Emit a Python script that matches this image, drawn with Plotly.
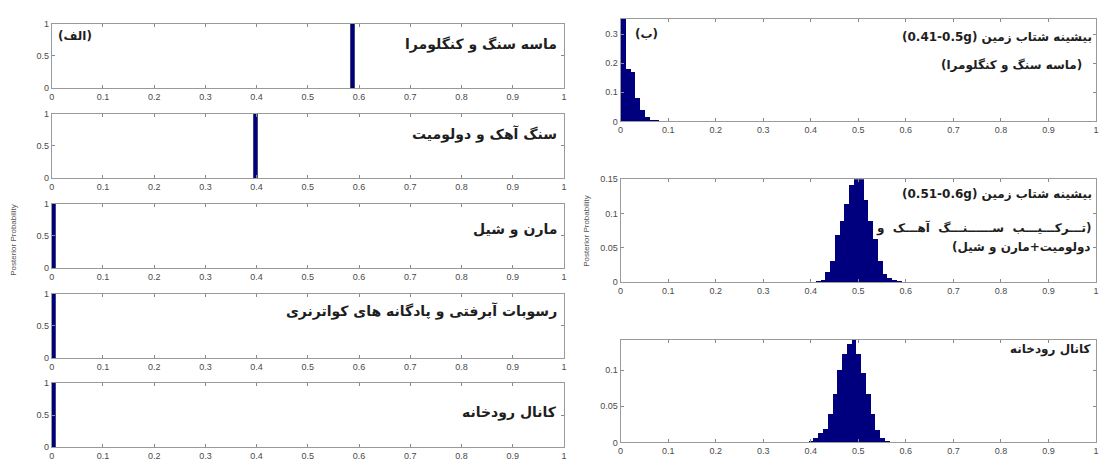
import plotly.graph_objects as go

W, H = 1099, 467

# ---------------- data ----------------
x_ticks = [0, 0.1, 0.2, 0.3, 0.4, 0.5, 0.6, 0.7, 0.8, 0.9, 1]
x_tick_labels = ["0", "0.1", "0.2", "0.3", "0.4", "0.5", "0.6", "0.7", "0.8", "0.9", "1"]

# left column (الف): posterior probability per lithology
left_titles = ["ماسه سنگ و کنگلومرا", "سنگ آهک و دولومیت", "مارن و شیل",
               "رسوبات آبرفتی و پادگانه های کواترنری", "کانال رودخانه"]
left_x = [0.588, 0.398, 0.004, 0.004, 0.004]
left_p = [1.0, 1.0, 1.0, 1.0, 1.0]
left_y_ticks = [0, 0.5, 1]
left_y_labels = ["0", "0.5", "1"]

# right column (ب): posterior histograms
r1_x = [0.005, 0.015, 0.025, 0.035, 0.045, 0.055, 0.065, 0.075, 0.085, 0.095, 0.105, 0.115]
r1_p = [0.55, 0.18, 0.17, 0.082, 0.039, 0.015, 0.006, 0.003, 0.002, 0.001, 0.001, 0.0005]
r1_y_ticks = [0, 0.1, 0.2, 0.3]
r1_y_labels = ["0", "0.1", "0.2", "0.3"]

r2_x = [0.415, 0.425, 0.435, 0.445, 0.455, 0.465, 0.475, 0.485, 0.495, 0.505,
        0.515, 0.525, 0.535, 0.545, 0.555, 0.565, 0.575, 0.585]
r2_p = [0.001, 0.003, 0.014, 0.031, 0.068, 0.088, 0.114, 0.141, 0.152, 0.155,
        0.12, 0.088, 0.062, 0.031, 0.012, 0.005, 0.002, 0.001]
r2_y_ticks = [0, 0.05, 0.1, 0.15]
r2_y_labels = ["0", "0.05", "0.1", "0.15"]

r3_x = [0.36, 0.37, 0.38, 0.39, 0.40, 0.41, 0.42, 0.43, 0.44, 0.45, 0.46, 0.47,
        0.48, 0.49, 0.50, 0.51, 0.52, 0.53, 0.54, 0.55, 0.56]
r3_p = [0.0003, 0.0005, 0.0008, 0.001, 0.002, 0.006, 0.013, 0.019, 0.04, 0.067, 0.10, 0.123,
        0.136, 0.143, 0.123, 0.096, 0.067, 0.04, 0.017, 0.006, 0.002]
r3_y_ticks = [0, 0.05, 0.1]
r3_y_labels = ["0", "0.05", "0.1"]

# Persian titles (strings ordered so that they display as in the reference)
NB = "\u00a0"
right_title1 = ["(0.41-0.5g) بیشینه شتاب زمین", "(ماسه سنگ و کنگلومرا)"]
right_title2 = ["(0.51-0.6g) بیشینه شتاب زمین",
                "تـــرکـــیـــب" + NB * 2 + "ســــــنـــگ" + NB * 2 + "آهـــک" + NB * 2 + "و)",
                "(دولومیت+مارن و شیل"]
right_title3 = ["کانال رودخانه"]

# ---------------- layout helpers ----------------
def px_x(p):
    return p / W

def px_y(p):
    return 1 - p / H

BAR = "#00007f"
FRAME = "#9a9a9a"
TICKC = "#8a8a8a"
LBL = "#4a4a4a"
TXT = "#1e1e1e"

fig = go.Figure()
layout = dict(width=W, height=H, margin=dict(l=0, r=0, t=0, b=0),
              paper_bgcolor="white", plot_bgcolor="white", showlegend=False,
              bargap=0, annotations=[])

def add_axes(i, xdom, ydom, yr, yt, ytl):
    sx = "" if i == 1 else str(i)
    common = dict(showline=True, linecolor=FRAME, linewidth=1, mirror="ticks",
                  ticks="inside", ticklen=3, tickcolor=TICKC, showgrid=False,
                  zeroline=False, tickfont=dict(family="Liberation Sans", size=9, color=LBL))
    layout["xaxis" + sx] = dict(domain=[px_x(xdom[0]), px_x(xdom[1])], range=[0, 1],
                                tickvals=x_ticks, ticktext=x_tick_labels,
                                anchor="y" + sx, **common)
    layout["yaxis" + sx] = dict(domain=[px_y(ydom[1]), px_y(ydom[0])], range=yr,
                                tickvals=yt, ticktext=ytl, anchor="x" + sx, **common)

def note(text, x, y, anchor, size):
    layout["annotations"].append(dict(text="<b>" + text + "</b>", x=px_x(x), y=px_y(y),
                                      xref="paper", yref="paper", xanchor=anchor,
                                      yanchor="middle", showarrow=False,
                                      font=dict(family="DejaVu Sans", size=size, color=TXT)))

left_rows = [(19, 85), (111, 177), (203, 269), (295, 361), (386, 452)]
left_text_y = [40, 132, 229, 313, 416]
for k in range(5):
    i = k + 1
    add_axes(i, (49, 564), left_rows[k], [0, 1], left_y_ticks, left_y_labels)
    sx = "" if i == 1 else str(i)
    fig.add_trace(go.Bar(x=[left_x[k]], y=[left_p[k]], width=0.008,
                         marker=dict(color=BAR, line=dict(color="#000033", width=0.5)),
                         xaxis="x" + sx, yaxis="y" + sx))
    note(left_titles[k], 559, left_text_y[k], "right", 14)

right_rows = [(14, 119), (178, 283), (342, 447)]
rdata = [(r1_x, r1_p, [0, 0.353], r1_y_ticks, r1_y_labels),
         (r2_x, r2_p, [0, 0.15], r2_y_ticks, r2_y_labels),
         (r3_x, r3_p, [0, 0.142], r3_y_ticks, r3_y_labels)]
for k in range(3):
    i = k + 6
    xs, ps, yr, yt, ytl = rdata[k]
    add_axes(i, (621, 1099), right_rows[k], yr, yt, ytl)
    fig.add_trace(go.Bar(x=xs, y=ps, width=0.0102,
                         marker=dict(color=BAR, line=dict(width=0)),
                         xaxis="x" + str(i), yaxis="y" + str(i)))

right_texts = [(right_title1, [33, 62], [1097, 1087]),
               (right_title2, [193, 228, 248], [1097, 1096, 1096]),
               (right_title3, [352], [1096])]
for lines, ys, xs in right_texts:
    for t, yy, xx in zip(lines, ys, xs):
        note(t, xx, yy, "right", 12)

# panel letters
note("(الف)", 53, 32, "left", 12)
note("(ب)", 633, 30, "left", 12)

# y-axis labels
for xx, yy in [(11, 240), (586, 231)]:
    layout["annotations"].append(dict(text="Posterior Probability", x=px_x(xx), y=px_y(yy),
                                      xref="paper", yref="paper", textangle=-90,
                                      xanchor="center", yanchor="middle", showarrow=False,
                                      font=dict(family="Liberation Sans", size=8, color="#555")))

fig.update_layout(**layout)
fig.write_html("out.html", config={"displayModeBar": False},
               post_script="document.body.style.margin='0';document.body.style.overflow='hidden';")
